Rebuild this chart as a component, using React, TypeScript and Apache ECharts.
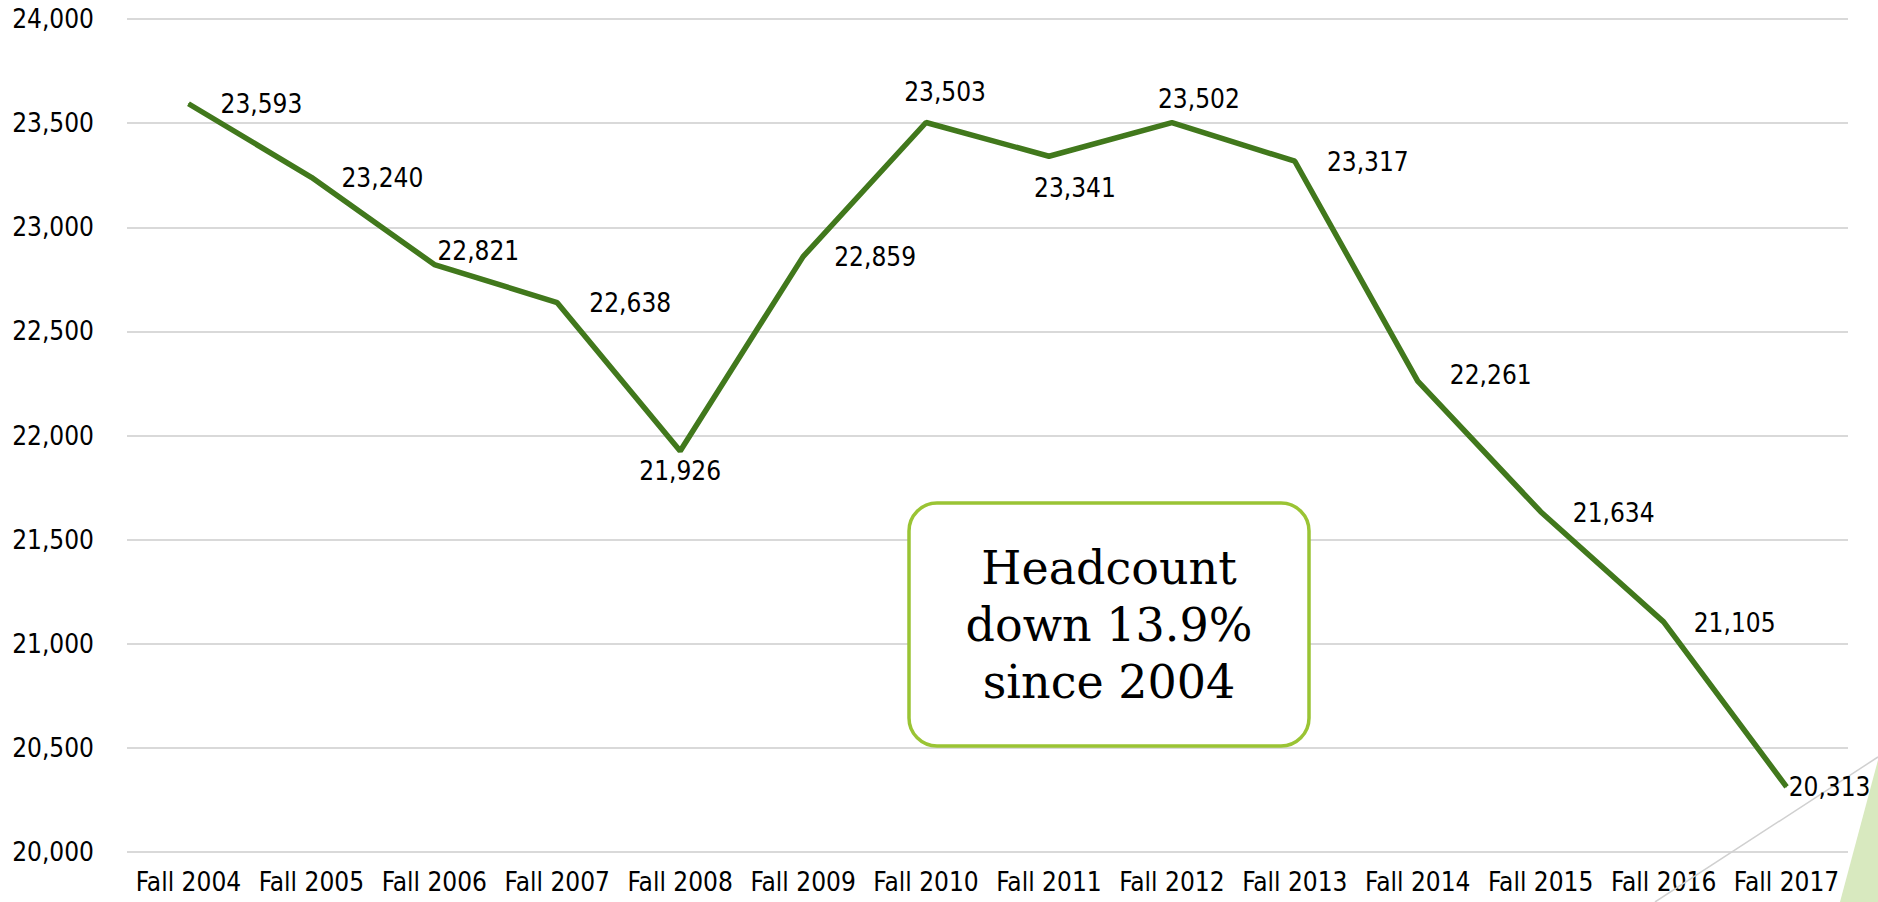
import React, { useEffect, useRef } from "react";
import * as echarts from "echarts";

const categories = [
  "Fall 2004", "Fall 2005", "Fall 2006", "Fall 2007", "Fall 2008", "Fall 2009", "Fall 2010",
  "Fall 2011", "Fall 2012", "Fall 2013", "Fall 2014", "Fall 2015", "Fall 2016", "Fall 2017",
];
const headcount = [23593, 23240, 22821, 22638, 21926, 22859, 23503, 23341, 23502, 23317, 22261, 21634, 21105, 20313];
const labelOffsets: [number, number][] = [
  [73, 0], [71, 1], [44, -14], [73, 0], [0, 20], [72, 0], [19, -31],
  [26, 32], [27, -24], [73, 1], [73, -6], [73, 1], [71, 1], [43, 0],
];
const calloutText = "Headcount\ndown 13.9%\nsince 2004";

const FONT = "'DejaVu Sans Condensed', 'Noto Sans', sans-serif";

export default function App() {
  const ref = useRef<HTMLDivElement>(null);
  useEffect(() => {
    if (!ref.current) return;
    const chart = echarts.init(ref.current, undefined, { renderer: "svg" });
    chart.setOption({
      animation: false,
      backgroundColor: "#ffffff",
      grid: { left: 127, right: 30, top: 19, bottom: 50 },
      xAxis: {
        type: "category",
        data: categories,
        boundaryGap: true,
        axisLine: { show: false },
        axisTick: { show: false },
        axisLabel: { color: "#000", fontFamily: FONT, fontSize: 26, margin: 17, interval: 0 },
      },
      yAxis: {
        type: "value",
        min: 20000,
        max: 24000,
        interval: 500,
        axisLine: { show: false },
        axisTick: { show: false },
        splitLine: { lineStyle: { color: "#d9d9d9", width: 2 } },
        axisLabel: {
          color: "#000",
          fontFamily: FONT,
          fontSize: 26,
          margin: 33,
          formatter: (v: number) => v.toLocaleString("en-US"),
        },
      },
      series: [
        {
          type: "line",
          data: headcount.map((v, i) => ({
            value: v,
            label: { offset: labelOffsets[i] },
          })),
          symbol: "circle",
          symbolSize: 1,
          showSymbol: true,
          itemStyle: { color: "#41781c" },
          lineStyle: { color: "#41781c", width: 5.5 },
          label: {
            show: true,
            position: "inside",
            align: "center",
            verticalAlign: "middle",
            color: "#000",
            fontFamily: FONT,
            fontSize: 26,
            formatter: (p: any) => Number(p.value).toLocaleString("en-US"),
          },
          z: 3,
        },
      ],
      graphic: [
        {
          type: "line",
          shape: { x1: 1655, y1: 902, x2: 1878, y2: 757 },
          style: { stroke: "#d0d0d0", lineWidth: 1.5 },
          z: 1,
        },
        {
          type: "polygon",
          shape: { points: [[1840, 902], [1878, 760], [1878, 902]] },
          style: { fill: "#d8e9bf" },
          z: 1,
        },
        {
          type: "rect",
          shape: { x: 909, y: 503, width: 400, height: 243, r: 28 },
          style: { fill: "#ffffff", stroke: "#9ac434", lineWidth: 3.5 },
          z: 10,
        },
        {
          type: "text",
          x: 1109,
          y: 625,
          style: {
            text: calloutText,
            fill: "#000",
            font: "46px 'DejaVu Serif', serif",
            align: "center",
            verticalAlign: "middle",
            lineHeight: 57,
          },
          z: 11,
        },
      ],
    });
    return () => chart.dispose();
  }, []);
  return (
    <div
      ref={ref}
      style={{ position: "fixed", left: 0, top: 0, width: 1878, height: 902 }}
    />
  );
}
